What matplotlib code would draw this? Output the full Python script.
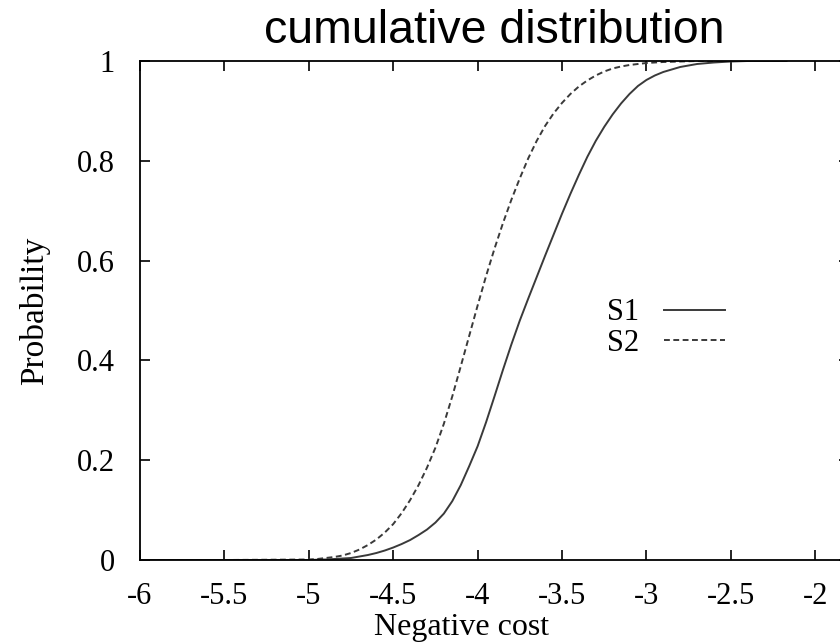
import matplotlib.pyplot as plt
import numpy as np

# negative cost grid
x = [-6.0, -5.5,
     -5.00, -4.95, -4.90, -4.85, -4.80, -4.75, -4.70, -4.65, -4.60, -4.55,
     -4.50, -4.45, -4.40, -4.35, -4.30, -4.25, -4.20, -4.15, -4.10, -4.05,
     -4.00, -3.95, -3.90, -3.85, -3.80, -3.75, -3.70, -3.65, -3.60, -3.55,
     -3.50, -3.45, -3.40, -3.35, -3.30, -3.25, -3.20, -3.15, -3.10, -3.05,
     -3.00, -2.95, -2.90,
     -2.8, -2.7, -2.6, -2.5, -2.4, -2.3, -2.17]

s1 = [0.0, 0.0,
      0.0, 0.0005, 0.001, 0.002, 0.003, 0.004, 0.007, 0.010, 0.014, 0.019,
      0.025, 0.032, 0.040, 0.050, 0.061, 0.075, 0.093, 0.118, 0.150, 0.188,
      0.228, 0.276, 0.328, 0.381, 0.432, 0.480, 0.524, 0.567, 0.610, 0.652,
      0.694, 0.734, 0.772, 0.808, 0.840, 0.868, 0.893, 0.915, 0.934, 0.950,
      0.962, 0.971, 0.978,
      0.988, 0.994, 0.997, 0.999, 1.0, 1.0, 1.0]

s2 = [0.0, 0.0,
      0.001, 0.002, 0.004, 0.006, 0.009, 0.014, 0.021, 0.030, 0.041, 0.055,
      0.072, 0.094, 0.120, 0.150, 0.185, 0.225, 0.273, 0.328, 0.388, 0.449,
      0.510, 0.569, 0.624, 0.675, 0.722, 0.765, 0.805, 0.840, 0.870, 0.895,
      0.916, 0.934, 0.949, 0.961, 0.971, 0.979, 0.985, 0.989, 0.992, 0.994,
      0.996, 0.997, 0.998,
      0.999, 1.0, 1.0, 1.0, 1.0, 1.0, 1.0]

xticks = [-6, -5.5, -5, -4.5, -4, -3.5, -3, -2.5, -2]
xticklabels = ['-6', '-5.5', '-5', '-4.5', '-4', '-3.5', '-3', '-2.5', '-2']
yticks = [0, 0.2, 0.4, 0.6, 0.8, 1]
yticklabels = ['0', '0.2', '0.4', '0.6', '0.8', '1']

serif = 'Liberation Serif'

fig = plt.figure(figsize=(8.4, 6.43), dpi=100)
# axes runs past the right edge, as in the cropped original
ax = fig.add_axes([140/840, 83/643, 709/840, 499/643])

ax.plot(x, s1, color='#3a3a3a', lw=1.4, label='S1')
ax.plot(x, s2, color='#3a3a3a', lw=1.4, ls=(0, (3, 1.8)), label='S2')

ax.set_xlim(-6, -1.8)
ax.set_ylim(0, 1)
ax.set_xticks(xticks)
ax.set_xticklabels(xticklabels, family=serif, fontsize=22)
ax.set_yticks(yticks)
ax.set_yticklabels(yticklabels, family=serif, fontsize=22)
ax.tick_params(direction='in', length=7.2, width=1.2, top=True, right=True)
ax.tick_params(axis='x', pad=16)
ax.tick_params(axis='y', pad=18)
for sp in ax.spines.values():
    sp.set_linewidth(1.3)

ax.set_xlabel('Negative cost', family=serif, fontsize=23, labelpad=0)
ax.xaxis.set_label_coords(0.453, -0.107)
ax.set_ylabel('Probability', family=serif, fontsize=24)
ax.yaxis.set_label_coords(-0.127, 0.5)
ax.set_title('cumulative distribution', family='Liberation Sans', fontsize=33.5, pad=13)

ax.legend(loc='center left', bbox_to_anchor=(0.62, 0.465), frameon=False,
          markerfirst=False, handlelength=2.0, handletextpad=0.8,
          labelspacing=0.05, prop={'family': serif, 'size': 22})

fig.savefig('out.png', dpi=100)
